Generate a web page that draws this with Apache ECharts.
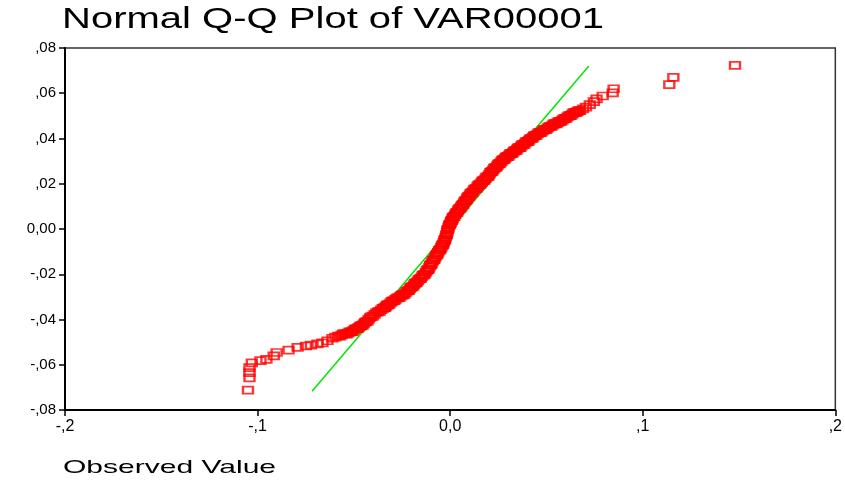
<!DOCTYPE html>
<html>
<head>
<meta charset="utf-8">
<script src="https://cdn.jsdelivr.net/npm/echarts@6/dist/echarts.min.js"></script>
<style>
  html, body { margin: 0; padding: 0; background: #fff; }
  #chart { width: 845px; height: 484px; }
</style>
</head>
<body>
<div id="chart"></div>
<script>
// Normal Q-Q plot (SPSS style)
var titleText = 'Normal Q-Q Plot of VAR00001';
var xName = 'Observed Value';
var xLabels = ['-,2', '-,1', '0,0', ',1', ',2'];
var yLabels = ['-,08', '-,06', '-,04', '-,02', '0,00', ',02', ',04', ',06', ',08'];

// [observed, expected normal]
var points = [
  [-0.1050, -0.0712], [-0.1042, -0.0658], [-0.1042, -0.0635], [-0.1042, -0.0613],
  [-0.1030, -0.0592], [-0.0985, -0.0582], [-0.0954, -0.0576], [-0.0916, -0.0561],
  [-0.0901, -0.0546], [-0.0839, -0.0535], [-0.0792, -0.0523], [-0.0749, -0.0517],
  [-0.0723, -0.0513], [-0.0689, -0.0508], [-0.0663, -0.0503], [-0.0637, -0.0494],
  [-0.0611, -0.0483], [-0.0596, -0.0478], [-0.0581, -0.0473], [-0.0563, -0.0468],
  [-0.0545, -0.0464], [-0.0530, -0.0460], [-0.0514, -0.0455], [-0.0501, -0.0448],
  [-0.0488, -0.0441], [-0.0475, -0.0435], [-0.0462, -0.0428], [-0.0449, -0.0419],
  [-0.0436, -0.0410], [-0.0423, -0.0399], [-0.0410, -0.0388], [-0.0392, -0.0377],
  [-0.0374, -0.0366], [-0.0358, -0.0357], [-0.0343, -0.0349], [-0.0333, -0.0342],
  [-0.0323, -0.0335], [-0.0310, -0.0326], [-0.0297, -0.0318], [-0.0284, -0.0311],
  [-0.0271, -0.0304], [-0.0258, -0.0297], [-0.0245, -0.0291], [-0.0232, -0.0282],
  [-0.0219, -0.0273], [-0.0209, -0.0264], [-0.0199, -0.0256], [-0.0188, -0.0247],
  [-0.0178, -0.0238], [-0.0168, -0.0229], [-0.0157, -0.0220], [-0.0147, -0.0211],
  [-0.0137, -0.0203], [-0.0126, -0.0191], [-0.0116, -0.0180], [-0.0108, -0.0169],
  [-0.0101, -0.0158], [-0.0093, -0.0147], [-0.0085, -0.0136], [-0.0077, -0.0125],
  [-0.0070, -0.0114], [-0.0062, -0.0103], [-0.0054, -0.0092], [-0.0046, -0.0081],
  [-0.0039, -0.0070], [-0.0033, -0.0059], [-0.0028, -0.0048], [-0.0023, -0.0036],
  [-0.0018, -0.0025], [-0.0015, -0.0014], [-0.0013, -0.0003], [-0.0008, 0.0008],
  [-0.0003, 0.0019], [0.0003, 0.0028], [0.0008, 0.0037], [0.0013, 0.0046],
  [0.0018, 0.0054], [0.0026, 0.0063], [0.0034, 0.0072], [0.0041, 0.0081],
  [0.0049, 0.0090], [0.0057, 0.0098], [0.0065, 0.0107], [0.0072, 0.0116],
  [0.0080, 0.0125], [0.0088, 0.0134], [0.0095, 0.0143], [0.0103, 0.0151],
  [0.0111, 0.0160], [0.0121, 0.0169], [0.0132, 0.0178], [0.0142, 0.0187],
  [0.0152, 0.0196], [0.0163, 0.0205], [0.0173, 0.0214], [0.0183, 0.0222],
  [0.0194, 0.0231], [0.0204, 0.0242], [0.0214, 0.0253], [0.0224, 0.0262],
  [0.0235, 0.0271], [0.0245, 0.0280], [0.0255, 0.0289], [0.0266, 0.0298],
  [0.0276, 0.0307], [0.0286, 0.0313], [0.0297, 0.0320], [0.0307, 0.0327],
  [0.0317, 0.0333], [0.0328, 0.0340], [0.0338, 0.0346], [0.0348, 0.0353],
  [0.0359, 0.0360], [0.0369, 0.0366], [0.0379, 0.0373], [0.0390, 0.0380],
  [0.0400, 0.0386], [0.0410, 0.0393], [0.0421, 0.0400], [0.0431, 0.0406],
  [0.0441, 0.0413], [0.0454, 0.0420], [0.0467, 0.0426], [0.0480, 0.0433],
  [0.0493, 0.0439], [0.0506, 0.0446], [0.0519, 0.0453], [0.0532, 0.0459],
  [0.0545, 0.0466], [0.0558, 0.0470], [0.0570, 0.0475], [0.0583, 0.0481],
  [0.0596, 0.0488], [0.0609, 0.0495], [0.0622, 0.0501], [0.0635, 0.0508],
  [0.0648, 0.0515], [0.0661, 0.0519], [0.0674, 0.0523], [0.0690, 0.0531],
  [0.0705, 0.0539], [0.0725, 0.0550], [0.0746, 0.0563], [0.0760, 0.0575],
  [0.0792, 0.0588], [0.0844, 0.0602], [0.0849, 0.0620], [0.1138, 0.0638],
  [0.1159, 0.0670], [0.1479, 0.0723]
];

// the dense middle of the band holds many more cases
var pointsDense = [
  [-0.0572, -0.0474], [-0.0554, -0.0462], [-0.0538, -0.0465], [-0.0522, -0.0455],
  [-0.0508, -0.0454], [-0.0494, -0.0442], [-0.0481, -0.0440], [-0.0468, -0.0429],
  [-0.0455, -0.0426], [-0.0442, -0.0412], [-0.0429, -0.0407], [-0.0416, -0.0391],
  [-0.0401, -0.0385], [-0.0383, -0.0369], [-0.0366, -0.0364], [-0.0350, -0.0351],
  [-0.0338, -0.0348], [-0.0328, -0.0336], [-0.0316, -0.0333], [-0.0303, -0.0320],
  [-0.0290, -0.0317], [-0.0277, -0.0305], [-0.0264, -0.0303], [-0.0251, -0.0292],
  [-0.0238, -0.0289], [-0.0225, -0.0275], [-0.0214, -0.0271], [-0.0204, -0.0258],
  [-0.0193, -0.0254], [-0.0183, -0.0240], [-0.0173, -0.0236], [-0.0162, -0.0222],
  [-0.0152, -0.0218], [-0.0142, -0.0204], [-0.0131, -0.0200], [-0.0121, -0.0183],
  [-0.0112, -0.0177], [-0.0104, -0.0161], [-0.0097, -0.0155], [-0.0089, -0.0139],
  [-0.0081, -0.0133], [-0.0073, -0.0117], [-0.0066, -0.0111], [-0.0058, -0.0095],
  [-0.0050, -0.0089], [-0.0042, -0.0073], [-0.0036, -0.0067], [-0.0030, -0.0051],
  [-0.0026, -0.0045], [-0.0020, -0.0028], [-0.0017, -0.0022], [-0.0014, -0.0006],
  [-0.0010, 0.0000], [-0.0005, 0.0016], [0.0000, 0.0021], [0.0005, 0.0035],
  [0.0010, 0.0039], [0.0015, 0.0052], [0.0022, 0.0056], [0.0030, 0.0070],
  [0.0037, 0.0074], [0.0045, 0.0088], [0.0053, 0.0092], [0.0061, 0.0105],
  [0.0068, 0.0109], [0.0076, 0.0123], [0.0084, 0.0127], [0.0091, 0.0141],
  [0.0099, 0.0145], [0.0107, 0.0158], [0.0116, 0.0162], [0.0126, 0.0176],
  [0.0137, 0.0180], [0.0147, 0.0194], [0.0157, 0.0198], [0.0168, 0.0212],
  [0.0178, 0.0216], [0.0188, 0.0229], [0.0199, 0.0234], [0.0209, 0.0250],
  [0.0219, 0.0255], [0.0229, 0.0269], [0.0240, 0.0273], [0.0250, 0.0287],
  [0.0260, 0.0291], [0.0271, 0.0305], [0.0281, 0.0307], [0.0291, 0.0319],
  [0.0302, 0.0321], [0.0312, 0.0333], [0.0322, 0.0334], [0.0333, 0.0346],
  [0.0343, 0.0347], [0.0353, 0.0359], [0.0364, 0.0360], [0.0374, 0.0372],
  [0.0384, 0.0374], [0.0395, 0.0386], [0.0405, 0.0387], [0.0415, 0.0399],
  [0.0426, 0.0400], [0.0436, 0.0412], [0.0447, 0.0414], [0.0460, 0.0426],
  [0.0473, 0.0427], [0.0486, 0.0439], [0.0499, 0.0440], [0.0512, 0.0452],
  [0.0525, 0.0453], [0.0538, 0.0465], [0.0551, 0.0465], [0.0564, 0.0475],
  [0.0576, 0.0476], [0.0589, 0.0487], [0.0602, 0.0489], [0.0615, 0.0500],
  [0.0628, 0.0502], [0.0641, 0.0514], [0.0654, 0.0514], [0.0667, 0.0523]
];

// reference line y = x
var refLine = [[-0.0717, -0.0717], [0.0720, 0.0720]];

var xMin = -0.2, xMax = 0.2, xStep = 0.1;
var yMin = -0.08, yMax = 0.08, yStep = 0.02;
var font = '"Liberation Sans", Arial, sans-serif';

var chart = echarts.init(document.getElementById('chart'), null, { renderer: 'canvas' });
chart.setOption({
  animation: false,
  backgroundColor: '#fff',
  grid: {
    left: 65, right: 7, top: 48, bottom: 74,
    show: true, borderColor: '#333', borderWidth: 1.5, backgroundColor: 'transparent'
  },
  graphic: [
    { type: 'text', x: 62, y: 5, scaleX: 1.38,
      style: { text: titleText, fontFamily: font, fontSize: 29, fill: '#000' } },
    { type: 'text', x: 63, y: 458, scaleX: 1.58,
      style: { text: xName, fontFamily: font, fontSize: 19, fill: '#000' } }
  ],
  xAxis: {
    type: 'value',
    min: xMin, max: xMax, interval: xStep,
    axisLine: { show: true, onZero: false, lineStyle: { color: '#000', width: 2 } },
    axisTick: { show: true, inside: false, length: 6, lineStyle: { color: '#000', width: 1.5 } },
    splitLine: { show: false },
    axisLabel: {
      color: '#000', fontFamily: font, fontSize: 16, margin: 9,
      formatter: function (v) { return xLabels[Math.round((v - xMin) / xStep)]; }
    }
  },
  yAxis: {
    type: 'value',
    min: yMin, max: yMax, interval: yStep,
    axisLine: { show: true, onZero: false, lineStyle: { color: '#000', width: 2 } },
    axisTick: { show: true, inside: false, length: 6, lineStyle: { color: '#000', width: 1.5 } },
    splitLine: { show: false },
    axisLabel: {
      color: '#000', fontFamily: font, fontSize: 15, margin: 9,
      formatter: function (v) { return yLabels[Math.round((v - yMin) / yStep)]; }
    }
  },
  series: [
    {
      type: 'line',
      data: refLine,
      symbol: 'none',
      lineStyle: { color: '#00e600', width: 1.5 },
      z: 1
    },
    {
      type: 'scatter',
      data: points.concat(pointsDense),
      symbol: 'rect',
      symbolSize: [10, 7],
      itemStyle: { color: 'transparent', borderColor: '#ff0000', borderWidth: 2 },
      z: 2
    }
  ]
});
</script>
</body>
</html>
